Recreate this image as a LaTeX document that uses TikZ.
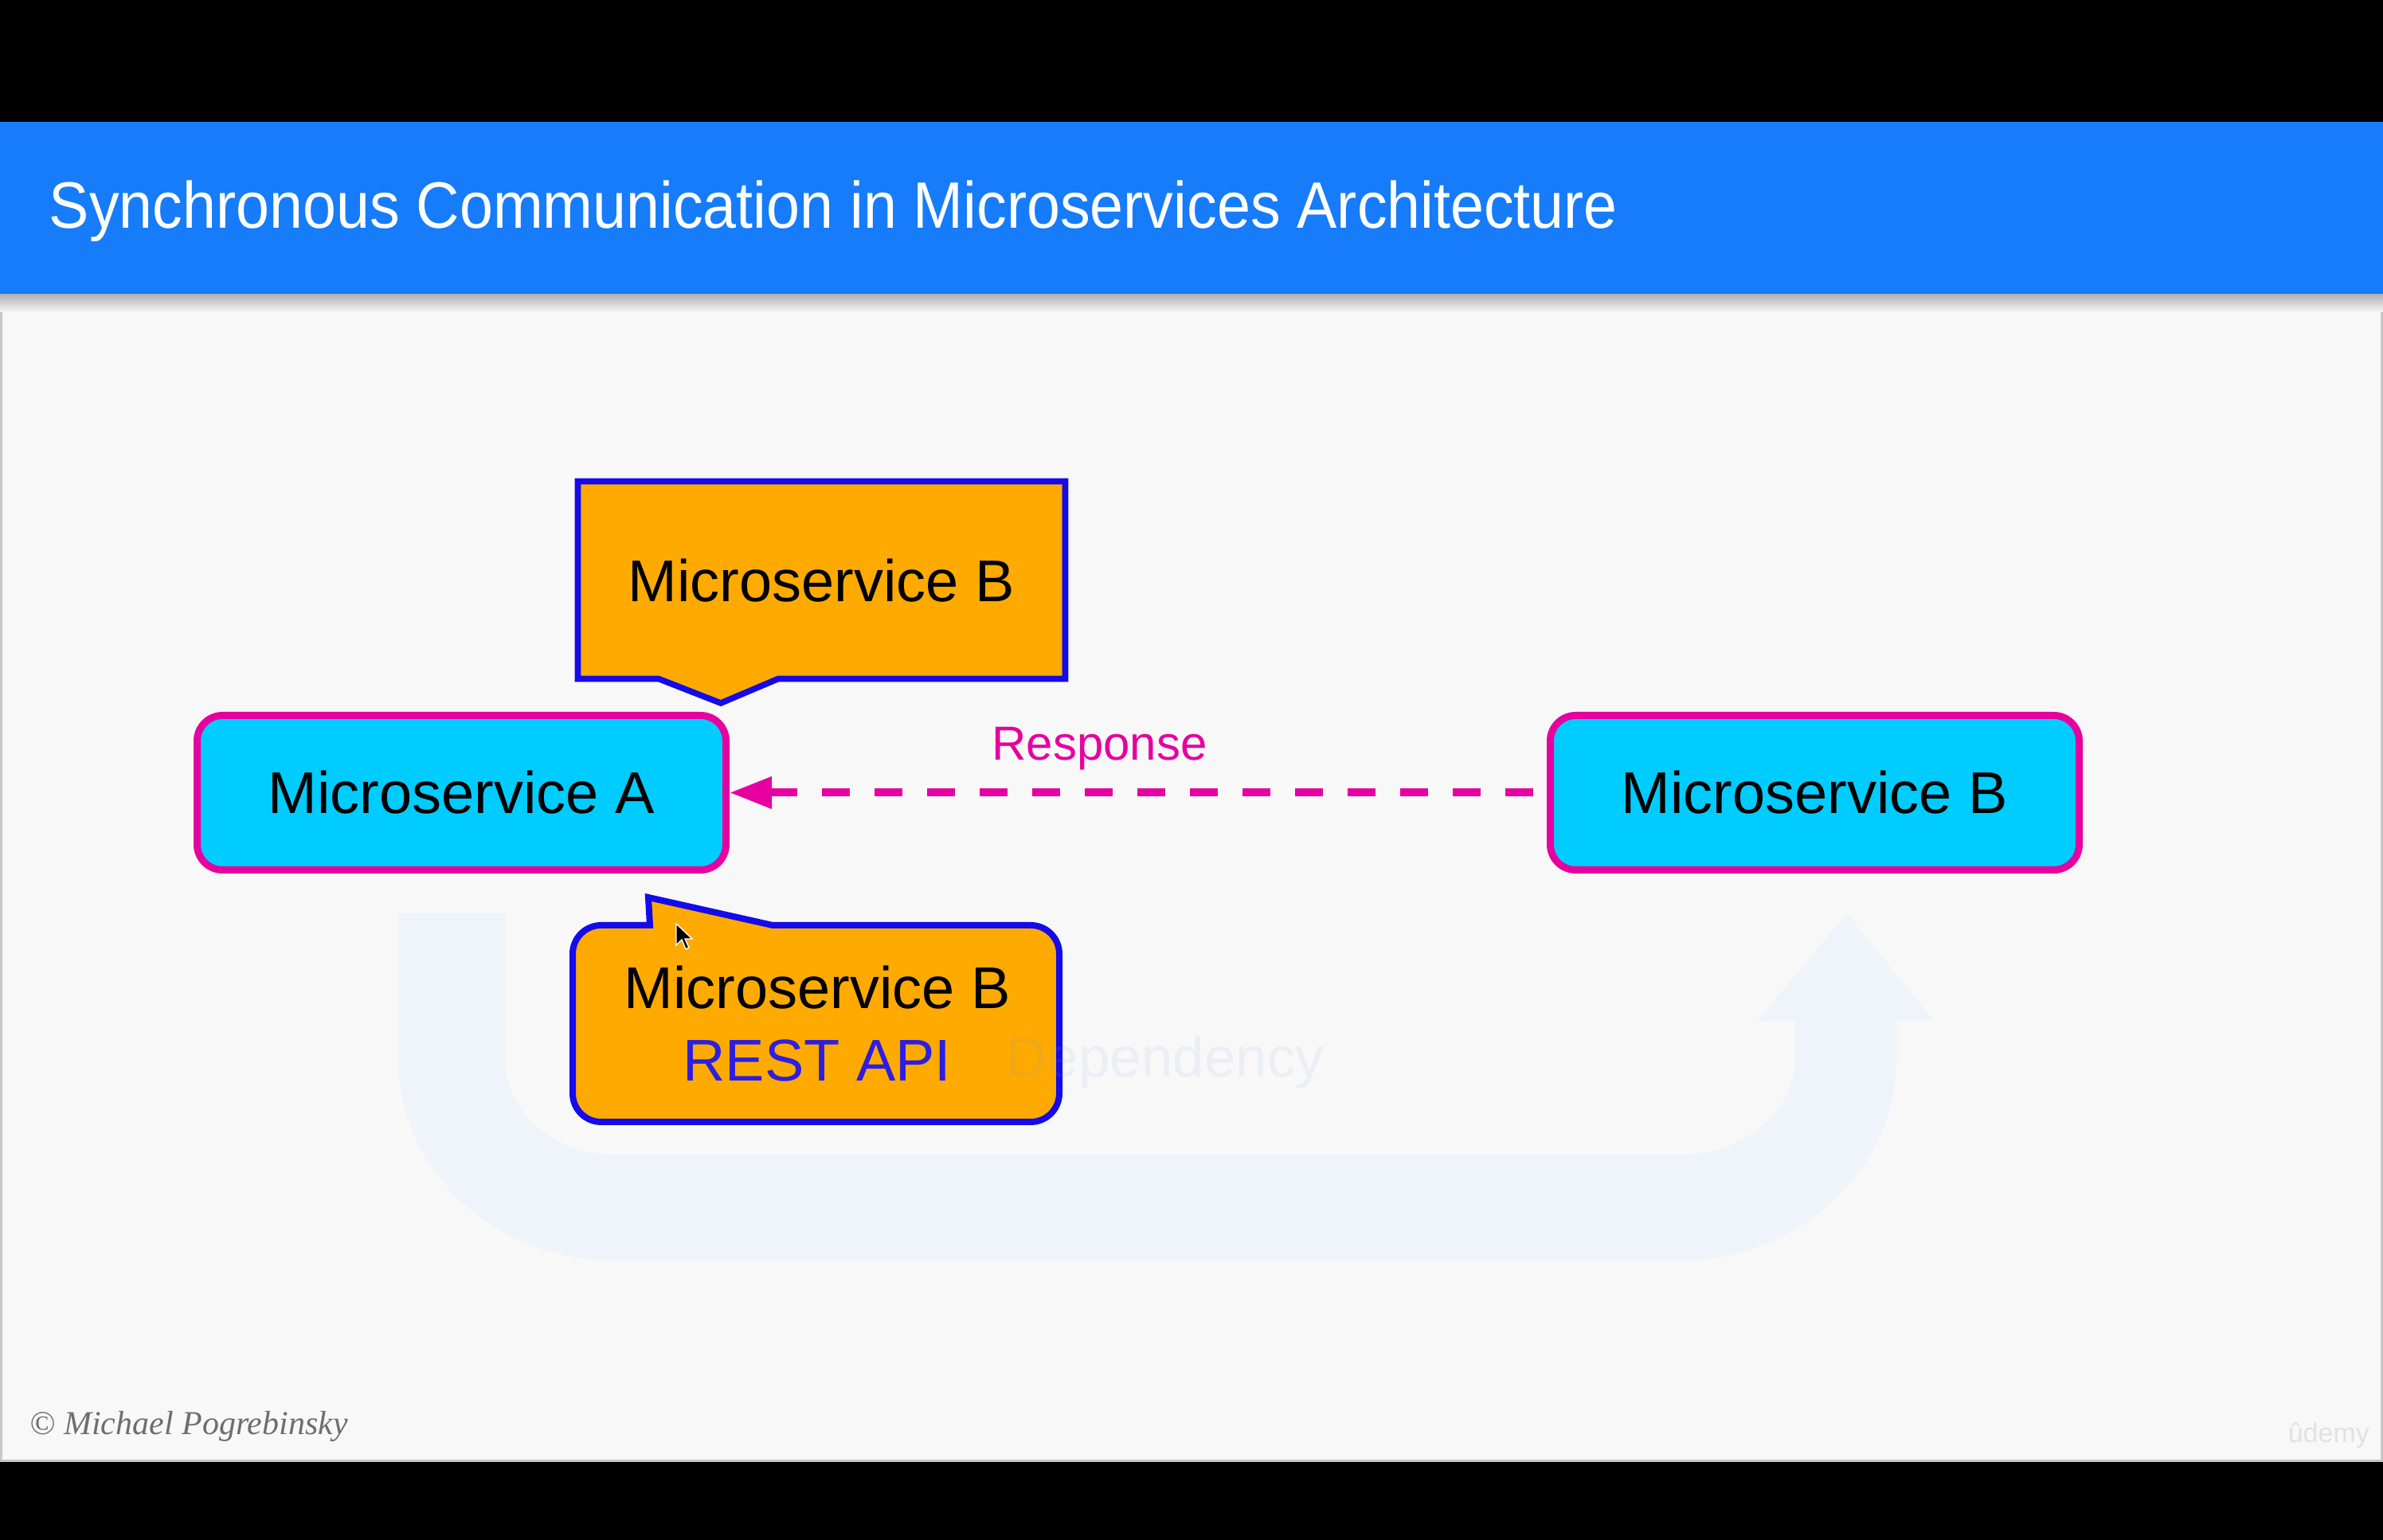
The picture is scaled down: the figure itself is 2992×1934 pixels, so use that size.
\documentclass[tikz,border=0pt]{standalone}
\usepackage{graphicx}
\usepackage{fontspec}
\setmainfont{Liberation Sans}
\newfontfamily\serifit{Liberation Serif}
\usetikzlibrary{arrows.meta}
\definecolor{bgc}{RGB}{248,248,248}
\definecolor{bandblue}{RGB}{22,124,249}
\definecolor{ucol}{RGB}{239,243,250}
\definecolor{depcol}{RGB}{120,160,230}
\definecolor{cyanf}{RGB}{0,204,255}
\definecolor{magc}{RGB}{230,0,160}
\definecolor{orangef}{RGB}{255,170,0}
\definecolor{blueb}{RGB}{20,10,235}
\definecolor{restblue}{RGB}{45,30,225}
\definecolor{footgray}{RGB}{110,110,110}
\definecolor{udgray}{RGB}{226,226,226}
\tikzset{
  msbox/.style={draw=magc, fill=cyanf, line width=2.25pt, rounded corners=8pt,
    minimum width=166pt, minimum height=48.5pt, inner sep=0pt,
    font=\fontsize{18.5}{22}\selectfont},
  boxtext/.style={inner sep=0pt, font=\fontsize{18.5}{22}\selectfont},
  calloutshape/.style={draw=blueb, fill=orangef, line width=1.9pt, line join=miter},
  resp/.style={draw=magc, line width=2.5pt, dash pattern=on 8.75pt off 7.75pt,
    dash phase=12.25pt, -{Triangle[length=13.25pt,width=9.5pt]}},
  resptext/.style={inner sep=0pt, text=magc, font=\fontsize{15}{18}\selectfont},
}
\begin{document}
\begin{tikzpicture}[x=0.25pt,y=-0.25pt]
\useasboundingbox (0,0) rectangle (2992,1934);
% frame
\fill[black] (0,0) rectangle (2992,1934);
\fill[bgc] (0,370) rectangle (2992,1836);
\draw[black!22, line width=0.6pt] (1.5,370) -- (1.5,1834.5) -- (2990.5,1834.5) -- (2990.5,370);
\fill[bandblue] (0,153) rectangle (2992,370);
\shade[top color=black!30, bottom color=bgc] (0,370) rectangle (2992,392);
\node[anchor=base west, inner sep=0pt, text=white, font=\fontsize{20.6}{24}\selectfont] (title) at (61,287)
  {\scalebox{0.915}[1]{Synchronous Communication in Microservices Architecture}};
% faint dependency arrow
\fill[ucol] (500,1147) -- (500,1330) .. controls (500,1469) and (621,1583) .. (770,1583)
  -- (2110,1583) .. controls (2259,1583) and (2381,1469) .. (2381,1330)
  -- (2381,1282) -- (2428,1282) -- (2319,1147) -- (2207,1282) -- (2254,1282)
  -- (2254,1330) .. controls (2254,1396) and (2189,1450) .. (2110,1450)
  -- (770,1450) .. controls (695,1450) and (634,1396) .. (634,1330) -- (634,1147) -- cycle;
% top callout
\filldraw[calloutshape] (725.5,604.5) -- (1337.5,604.5) -- (1337.5,852.5) -- (977,852.5)
  -- (905,883) -- (827,852.5) -- (725.5,852.5) -- cycle;
\node[boxtext] (cb1) at (1031.5,729) {Microservice B};
% bottom callout
\filldraw[calloutshape, line width=2pt] (719,1198) .. controls (719,1178) and (735,1162) .. (755,1162)
  -- (816,1162) -- (814,1127) -- (970,1162) -- (1294,1162)
  .. controls (1314,1162) and (1330,1178) .. (1330,1198) -- (1330,1373)
  .. controls (1330,1393) and (1314,1409) .. (1294,1409) -- (755,1409)
  .. controls (735,1409) and (719,1393) .. (719,1373) -- cycle;
\node[boxtext, anchor=base] (cb2) at (1026,1267) {Microservice B};
\node[boxtext, anchor=base, text=restblue] (cb3) at (1026,1358) {REST API};
% faint label over everything
\node[anchor=base, inner sep=0pt, text=depcol, text opacity=0.1, font=\fontsize{17.75}{21}\selectfont] (dep) at (1463,1353) {Dependency};
% mouse cursor
\filldraw[fill=black, draw=white, line width=0.35pt, line join=miter]
  (849,1160) -- (849,1187) -- (856,1180) -- (861,1192) -- (865,1190) -- (860,1179) -- (869,1179) -- cycle;
% main boxes
\node[msbox] (A) at (579.5,995.5) {Microservice A};
\node[msbox] (B) at (2278.5,995.5) {Microservice B};
\draw[resp] (B.west) -- (A.east);
\node[resptext, anchor=base] (rl) at (1380.5,955) {Response};
% footer
\node[anchor=base west, inner sep=0pt, text=footgray, font=\serifit\itshape\fontsize{10.5}{13}\selectfont] (foot) at (37,1802) {© Michael Pogrebinsky};
\node[anchor=base west, inner sep=0pt, text=udgray, font=\fontsize{8.5}{10}\selectfont] (ud) at (2872,1812) {ûdemy};
\end{tikzpicture}
\end{document}
